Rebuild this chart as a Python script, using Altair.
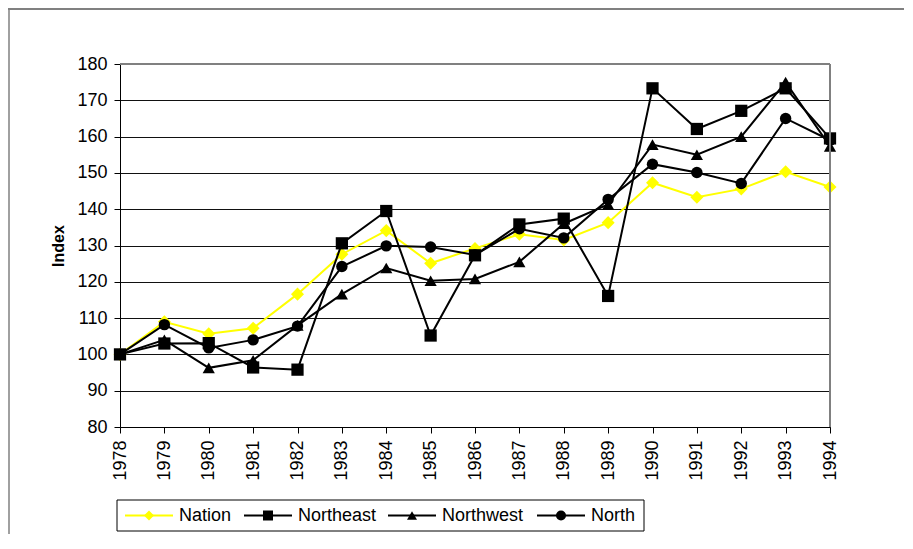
import altair as alt
import pandas as pd

years = ["1978", "1979", "1980", "1981", "1982", "1983", "1984", "1985", "1986",
         "1987", "1988", "1989", "1990", "1991", "1992", "1993", "1994"]
nation = [100, 109, 105.7, 107.2, 116.6, 127.6, 134.1, 125.1, 129.2, 133.1, 131.5, 136.3, 147.3, 143.3, 145.6, 150.3, 146.1]
northeast = [100, 103, 103.1, 96.4, 95.8, 130.6, 139.5, 105.2, 127.3, 135.8, 137.4, 116.1, 173.3, 162.1, 167.1, 173.3, 159.5]
northwest = [100, 104, 96.3, 98.4, 108, 116.6, 123.8, 120.3, 120.8, 125.5, 136, 141.3, 157.8, 155, 160, 175, 157.3]
north = [100, 108.2, 101.8, 104, 107.8, 124.2, 129.9, 129.6, 127.4, 134.6, 132.1, 142.7, 152.4, 150.1, 147.1, 165, 159]

series_names = ["Nation", "Northeast", "Northwest", "North"]
series_vals = [nation, northeast, northwest, north]
colors = ["#FFFF00", "#000000", "#000000", "#000000"]
shapes = ["diamond", "square", "triangle-up", "circle"]
marker_sizes = [170, 150, 150, 130]
y_ticks = [80, 90, 100, 110, 120, 130, 140, 150, 160, 170, 180]

rows = []
for i, (name, vals) in enumerate(zip(series_names, series_vals)):
    for yr, v in zip(years, vals):
        rows.append({"Year": yr, "Index": v, "Series": name, "order": i})
df = pd.DataFrame(rows)

FONT = "Liberation Sans"
W, H = 710, 363

color_scale = alt.Scale(domain=series_names, range=colors)
shape_scale = alt.Scale(domain=series_names, range=shapes)

x_enc = alt.X("Year:O", sort=years, scale=alt.Scale(padding=0),
              axis=alt.Axis(title=None, labelAngle=-90, labelFontSize=18, labelFont=FONT,
                            labelColor="#000", domainColor="#000", tickColor="#000",
                            tickSize=6, labelPadding=7, grid=False))
y_enc = alt.Y("Index:Q", scale=alt.Scale(domain=[80, 180], nice=False, zero=False),
              axis=alt.Axis(values=y_ticks, title="Index", titleFont=FONT, titleFontSize=16,
                            titleFontWeight="bold", titleColor="#000", titleX=-62, titleY=H / 2,
                            titleBaseline="middle", titleAngle=-90,
                            labelFontSize=18, labelFont=FONT, labelColor="#000",
                            domainColor="#000", tickColor="#000", tickSize=6, labelPadding=7,
                            grid=True, gridColor="#111", gridWidth=1))

layers = []
for i, name in enumerate(series_names):
    sub = df[df["Series"] == name]
    base = alt.Chart(sub)
    line = base.mark_line(strokeWidth=2, color=colors[i]).encode(x=x_enc, y=y_enc)
    pts = base.mark_point(filled=True, size=marker_sizes[i], shape=shapes[i],
                          color=colors[i], opacity=1).encode(x=x_enc, y=y_enc)
    layers += [line, pts]

# plot-area border (top & right, gray)
border_top = alt.Chart().mark_rule(color="#808080", strokeWidth=2).encode(
    x=alt.value(0), x2=alt.value(W), y=alt.value(0))
border_right = alt.Chart().mark_rule(color="#808080", strokeWidth=2).encode(
    x=alt.value(W), y=alt.value(0), y2=alt.value(H))

# outer chart frame (top & left)
frame_top = alt.Chart().mark_rule(color="#808080", strokeWidth=2).encode(
    x=alt.value(-112), x2=alt.value(784), y=alt.value(-55))
frame_left = alt.Chart().mark_rule(color="#808080", strokeWidth=1.5).encode(
    x=alt.value(-111), y=alt.value(-55), y2=alt.value(470))

# legend
leg_line_start = [5, 124, 268, 417]
leg_df = pd.DataFrame({
    "Series": series_names,
    "x1": leg_line_start,
    "x2": [s + 48 for s in leg_line_start],
    "xm": [s + 24 for s in leg_line_start],
    "xt": [s + 54 for s in leg_line_start],
    "y": [451.5] * 4,
})
leg_box = alt.Chart().mark_rect(fill="white", stroke="#000", strokeWidth=1).encode(
    x=alt.value(-3), x2=alt.value(524), y=alt.value(436), y2=alt.value(467))
leg_lines = alt.Chart(leg_df).mark_rule(strokeWidth=2).encode(
    x=alt.X("x1:Q", scale=None), x2="x2:Q", y=alt.Y("y:Q", scale=None),
    color=alt.Color("Series:N", scale=color_scale, legend=None))
leg_pts = alt.Chart(leg_df).mark_point(filled=True, size=100, opacity=1).encode(
    x=alt.X("xm:Q", scale=None), y=alt.Y("y:Q", scale=None),
    color=alt.Color("Series:N", scale=color_scale, legend=None),
    shape=alt.Shape("Series:N", scale=shape_scale, legend=None))
leg_text = alt.Chart(leg_df).mark_text(align="left", baseline="middle", font=FONT,
                                       fontSize=18, color="#000").encode(
    x=alt.X("xt:Q", scale=None), y=alt.Y("y:Q", scale=None), text="Series:N")

chart = alt.layer(
    *layers, border_top, border_right, frame_top, frame_left,
    leg_box, leg_lines, leg_pts, leg_text
).properties(
    width=W, height=H,
    autosize=alt.AutoSizeParams(type="none"),
    padding={"left": 112, "top": 56, "right": 75, "bottom": 108},
).configure_view(stroke=None).configure(background="white")

chart.save("out.html", embed_options={"renderer": "svg", "actions": False})
